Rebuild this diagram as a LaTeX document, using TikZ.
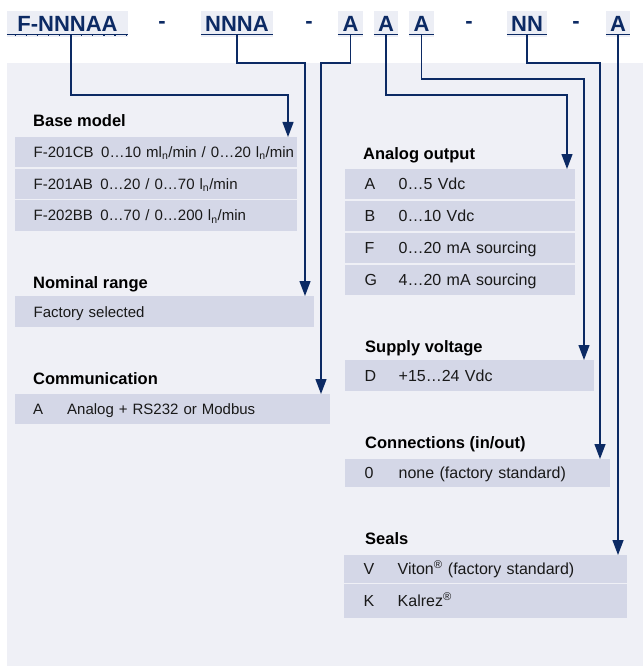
\documentclass[tikz,border=0pt]{standalone}
\usepackage{fontspec}
\setmainfont{Liberation Sans}
\usetikzlibrary{arrows.meta}
\definecolor{navy}{RGB}{12,42,100}
\definecolor{panel}{RGB}{239,240,246}
\definecolor{hdrfill}{RGB}{236,238,245}
\definecolor{rowfill}{RGB}{212,215,231}
\definecolor{txt}{RGB}{25,25,25}
\tikzset{
 hdr/.style={fill=hdrfill, inner sep=0pt, minimum height=26pt, text=navy, font=\fontsize{22}{24}\selectfont\bfseries},
 sepdash/.style={inner sep=0pt, text=navy, font=\fontsize{22}{24}\selectfont\bfseries},
 uline/.style={draw=navy, line width=1.3pt},
 conn/.style={draw=navy, line width=1.3pt, -{Triangle[length=15pt,width=11pt]}},
 title/.style={anchor=base west, inner sep=0pt, font=\fontsize{16.5}{19}\selectfont\bfseries, text=black},
 rowL/.style={fill=rowfill, anchor=north west, inner xsep=18.5pt, inner ysep=0pt, text height=13pt, text depth=2pt, align=left, font=\fontsize{15}{18}\selectfont, text=txt},
 rowR/.style={fill=rowfill, anchor=north west, inner xsep=19.5pt, inner ysep=0pt, text height=13.5pt, text depth=2pt, align=left, font=\fontsize{16}{19}\selectfont, text=txt},
}
\newcommand{\lbl}[1]{\makebox[34pt][l]{#1}}
\begin{document}
\begin{tikzpicture}[x=1pt,y=-1pt]
\useasboundingbox (0,0) rectangle (643,666);
\fill[white] (0,0) rectangle (643,666);
\fill[panel] (7,63) rectangle (643,666);

% header code
\node[hdr, minimum width=121pt] (h1) at (67.5,24) {F-NNNAA};
\node[sepdash] (d1) at (162,25) {-};
\node[hdr, minimum width=72pt] (h2) at (237,24) {NNNA};
\node[sepdash] (d2) at (309,25) {-};
\node[hdr, minimum width=25pt] (h3) at (350.5,24) {A};
\node[hdr, minimum width=24pt] (h4) at (386,24) {A};
\node[hdr, minimum width=25pt] (h5) at (421.5,24) {A};
\node[sepdash] (d3) at (469,25) {-};
\node[hdr, minimum width=40pt] (h6) at (527,24) {NN};
\node[sepdash] (d4) at (576,25) {-};
\node[hdr, minimum width=24pt] (h7) at (618,24) {A};
\foreach \h in {h1,h2,h3,h4,h5,h6,h7}
  \draw[uline] ([yshift=3pt]\h.south west) -- ([yshift=3pt]\h.south east);
\draw[navy, line width=1.2pt, dash pattern=on 1.2pt off 9.9pt] (14.5,35.9) -- (128,35.9);

% titles
\node[title] (tBase) at (33,127) {Base model};
\node[title] (tNom) at (33,288) {Nominal range};
\node[title] (tCom) at (33,384) {Communication};
\node[title] (tAna) at (363,159) {Analog output};
\node[title] (tSup) at (365,352) {Supply voltage};
\node[title] (tCon) at (365,448) {Connections (in/out)};
\node[title] (tSea) at (365,544) {Seals};

% left tables
\node[rowL, text width=245pt, minimum height=30pt] (b1) at (15,137) {\mbox{F-201CB\hspace{0.5em}0…10 ml\textsubscript{n}/min / 0…20 l\textsubscript{n}/min}};
\node[rowL, text width=245pt, minimum height=30pt] (b2) at (15,168.5) {\mbox{F-201AB\hspace{0.5em}0…20 / 0…70 l\textsubscript{n}/min}};
\node[rowL, text width=245pt, minimum height=31.5pt] (b3) at (15,199.5) {\mbox{F-202BB\hspace{0.5em}0…70 / 0…200 l\textsubscript{n}/min}};
\node[rowL, text width=262pt, minimum height=31pt] (nr) at (15,296) {Factory selected};
\node[rowL, text width=278pt, minimum height=30pt] (cm) at (14.5,394) {\lbl{A}Analog + RS232 or Modbus};

% right tables
\node[rowR, text width=191pt, minimum height=30pt] (a1) at (345,169) {\lbl{A}0…5 Vdc};
\node[rowR, text width=191pt, minimum height=30.5pt] (a2) at (345,200.5) {\lbl{B}0…10 Vdc};
\node[rowR, text width=191pt, minimum height=30.5pt] (a3) at (345,232.5) {\lbl{F}0…20 mA sourcing};
\node[rowR, text width=191pt, minimum height=30pt] (a4) at (345,264.5) {\lbl{G}4…20 mA sourcing};
\node[rowR, text width=210pt, minimum height=31pt] (sv) at (345,360) {\lbl{D}+15…24 Vdc};
\node[rowR, text width=226pt, minimum height=28pt] (cn) at (345,459) {\lbl{0}none (factory standard)};
\node[rowR, text width=244pt, minimum height=28pt] (s1) at (344,555) {\lbl{V}Viton\textsuperscript{®} (factory standard)};
\node[rowR, text width=244pt, minimum height=34pt] (s2) at (344,584) {\lbl{K}Kalrez\textsuperscript{®}};

% connectors
\coordinate (c1) at (288,95);
\coordinate (c2) at (305,63);
\coordinate (c3) at (321,63);
\coordinate (c4) at (567,95);
\coordinate (c5) at (584,79);
\coordinate (c6) at (600,63);
\draw[conn] ([xshift=3.5pt,yshift=3pt]h1.south) |- (c1) -- (c1 |- b1.north);
\draw[conn] ([yshift=3pt]h2.south) |- (c2) -- (c2 |- nr.north);
\draw[conn] ([yshift=3pt]h3.south) |- (c3) -- (c3 |- cm.north);
\draw[conn] ([yshift=3pt]h4.south) |- (c4) -- (c4 |- a1.north);
\draw[conn] ([yshift=3pt]h5.south) |- (c5) -- (c5 |- sv.north);
\draw[conn] ([yshift=3pt]h6.south) |- (c6) -- (c6 |- cn.north);
\draw[conn] ([yshift=3pt]h7.south) -- (h7.south |- s1.north);
\end{tikzpicture}
\end{document}
